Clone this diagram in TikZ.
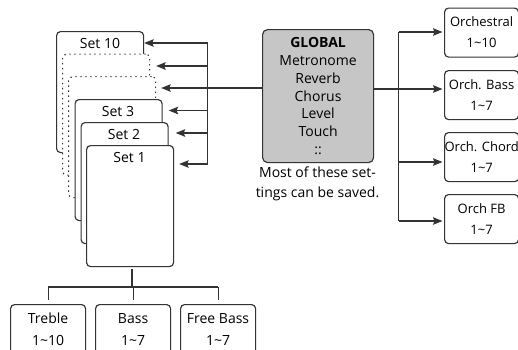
\documentclass[tikz,border=0pt]{standalone}
\usepackage{fontspec}
\setmainfont{Open Sans}
\usetikzlibrary{arrows.meta}
\definecolor{lc}{HTML}{333333}
\definecolor{gfill}{HTML}{C6C6C6}
\begin{document}
\begin{tikzpicture}[x=1pt,y=-1pt,
  line width=1.1pt,
  every node/.style={font=\fontsize{14}{18}\selectfont, text=black},
  ln/.style={draw=lc, line width=1.15pt},
  arr/.style={ln, -{Stealth[length=9.5pt,width=7.5pt,inset=1.5pt]}},
  setbox/.style={draw=lc, fill=white, line width=1.15pt, rounded corners=4pt, minimum width=87pt, minimum height=121pt, anchor=north west, inner sep=0pt},
  dotbox/.style={setbox, dash pattern=on 1.3pt off 3.7pt},
  setlab/.style={anchor=center, inner sep=0pt},
  leaf/.style={draw=lc, fill=white, line width=1.15pt, rounded corners=4pt, minimum width=75pt, minimum height=50pt, anchor=north west, inner sep=0pt, align=center, font=\fontsize{14}{22}\selectfont},
  orch/.style={draw=lc, fill=white, line width=1.15pt, rounded corners=4pt, minimum width=74pt, minimum height=49pt, anchor=north west, inner sep=0pt, align=center, font=\fontsize{13}{21}\selectfont},
]
\useasboundingbox (0,0) rectangle (518,349);
\clip (0,0) rectangle (518,349);

% stacked set boxes
\node[setbox] (s10) at (56,31) {};
\node[setlab] (l10) at (100,43) {Set 10};
\node[dotbox] (d1) at (62,53.5) {};
\node[dotbox] (d2) at (68,76) {};
\node[setbox] (s3) at (74.5,99) {};
\node[setlab] (l3) at (118,111) {Set 3};
\node[setbox] (s2) at (80.5,122) {};
\node[setlab] (l2) at (124,134) {Set 2};
\node[setbox] (s1) at (86,145) {};
\node[setlab] (l1) at (129.5,157) {Set 1};

% global box
\node[draw=lc, fill=gfill, line width=1.15pt, rounded corners=5pt, minimum width=111pt, minimum height=133pt, anchor=north west, inner sep=0pt, align=center, font=\fontsize{14}{17.8}\selectfont] (glob) at (262,29)
  {\textbf{GLOBAL}\\Metronome\\Reverb\\Chorus\\Level\\Touch\\::};
\node[align=center, font=\fontsize{14}{20}\selectfont, inner sep=0pt] (cap) at (317.5,184)
  {Most of these set-\\tings can be saved.};

% bus to sets
\coordinate (b10) at (207.5,43);
\coordinate (b9) at (207.5,66);
\coordinate (b8) at (207.5,88);
\coordinate (b3) at (207.5,110.5);
\coordinate (b2) at (207.5,133);
\coordinate (b1) at (207.5,164);
\draw[ln] (b10) -- (b1);
\draw[arr] (b10) -- (b10 -| s10.east);
\draw[arr, shorten >=6pt] (b9) -- (b9 -| d1.east);
\draw[arr, shorten >=5pt] (glob.west |- b8) -- (b8 -| d2.east);
\draw[arr, shorten >=6pt] (b3) -- (b3 -| s3.east);
\draw[arr, shorten >=7pt] (b2) -- (b2 -| s2.east);
\draw[arr, shorten >=5pt] (b1) -- (b1 -| s1.east);

% right side
\node[orch] (o1) at (444,7.5) {Orchestral\\1\textasciitilde10};
\node[orch] (o2) at (444,70) {Orch. Bass\\1\textasciitilde7};
\node[orch] (o3) at (444,132) {Orch. Chord\\1\textasciitilde7};
\node[orch] (o4) at (444,194) {Orch FB\\1\textasciitilde7};
\coordinate (r1) at (398.5,32);
\coordinate (r2) at (398.5,89);
\coordinate (r3) at (398.5,162);
\coordinate (r4) at (398.5,221);
\draw[ln] (glob.east |- r2) -- (r2);
\draw[ln] (r1) -- (r4);
\draw[arr, shorten >=1.5pt] (r1) -- (r1 -| o1.west);
\draw[arr, shorten >=1.5pt] (r2) -- (r2 -| o2.west);
\draw[arr, shorten >=1.5pt] (r3) -- (r3 -| o3.west);
\draw[arr, shorten >=1.5pt] (r4) -- (r4 -| o4.west);

% bottom tree
\node[leaf] (tr) at (10,304) {Treble\\1\textasciitilde10};
\node[leaf] (ba) at (95,304) {Bass\\1\textasciitilde7};
\node[leaf] (fb) at (180,304) {Free Bass\\1\textasciitilde7};
\coordinate (t0) at (132,287);
\draw[ln, shorten <=2pt] (t0 |- s1.south) -- (t0);
\draw[ln] (tr.north |- t0) -- (fb.north |- t0);
\draw[ln, shorten >=4pt] (tr.north |- t0) -- (tr.north);
\draw[ln, shorten >=4pt] (ba.north |- t0) -- (ba.north);
\draw[ln, shorten >=4pt] (fb.north |- t0) -- (fb.north);
\end{tikzpicture}
\end{document}
